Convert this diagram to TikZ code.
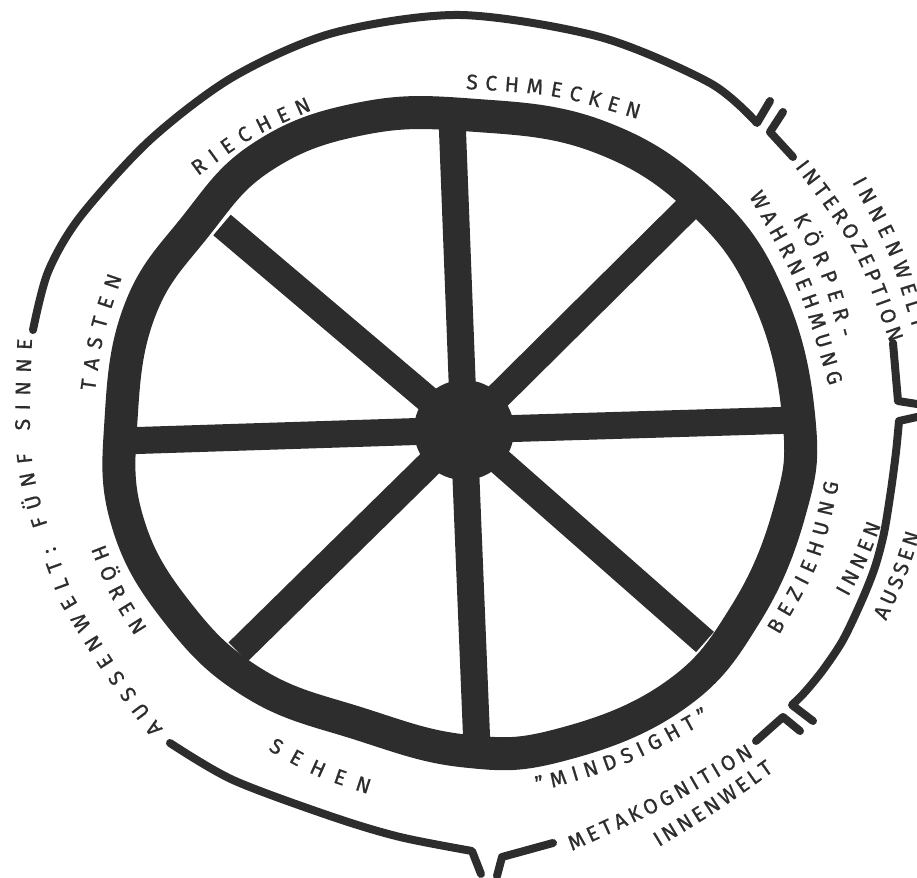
\documentclass[tikz,border=0pt]{standalone}
\usepackage{fontspec}
\setmainfont{Fira Sans}[FakeBold=0.8]
\usetikzlibrary{decorations.text}
\definecolor{ink}{HTML}{2D2D2D}
\newcommand\sensefont{\fontsize{12}{14}\selectfont}

\begin{document}
\begin{tikzpicture}[x=0.02cm, y=-0.02cm,
  wheelrim/.style={draw=ink, line width=0.66cm},
  spoke/.style={draw=ink, line width=0.54cm},
  bracket/.style={draw=ink, line width=0.16cm, line cap=round, line join=round},
  curvetext/.style={decorate, decoration={text along path, text={|\sensefont|#1}, text align={fit to path}, text color=ink}}]
\useasboundingbox (0,0) rectangle (917,878);
\coordinate (hub) at (464,430);
\foreach \e in {(452,118),(688,208),(797,420),(705,642),(477,748),(238,652),(122,441),(222,225)}
  \draw[spoke] (hub) -- \e;
\draw[wheelrim] plot[smooth cycle, tension=0.7] coordinates {(470,115) (600,137) (705,205) (770,300) (799,420) (790,510) (745,615) (674,696) (560,745) (465,751) (360,724) (255,684) (177,612) (127,520) (121,420) (140,310) (195,227) (262,157) (360,119)};
\fill[ink] (hub) circle[radius=50];

\draw[bracket] plot[smooth] coordinates {(33,330) (48,272) (80,217) (150,140) (233,77) (333,33) (460,15) (600,37) (710,83) (757,123)} -- (770,101);
\draw[bracket] plot[smooth] coordinates {(170,743) (233,780) (333,817) (400,837) (472,851)} -- (481,874);
\draw[bracket] (783,112) -- (770,132) -- (793,157);
\draw[bracket] (893,343) -- (898,401) -- (917,404);
\draw[bracket] (917,417) -- plot[smooth] coordinates {(899,421) (896,452) (891,490) (884,533) (875,567) (862,600) (843,640) (823,670) (805,692) (792,705)} -- (813,721);
\draw[bracket] (800,731) -- (783,717) -- (756,741);
\draw[bracket] (553,843) -- (502,857) -- (497,876);

\path[curvetext=SCHMECKEN] (466,89) .. controls (555,94) .. (638,119);
\path[curvetext=RIECHEN] (198,176) .. controls (251,137) .. (312,110);
\path[curvetext=TASTEN] (95,391) .. controls (103,332) .. (122,277);
\path[curvetext=HÖREN] (91,549) .. controls (109,595) .. (135,636);
\path[curvetext=SEHEN] (268,750) .. controls (316,777) .. (368,794);
\path[curvetext={"MINDSIGHT"}] (538,792) .. controls (627,766) .. (710,720);
\path[curvetext=KÖRPER-] (793,218) .. controls (823,276) .. (840,338);
\path[curvetext=WAHRNEHMUNG] (749,196) .. controls (800,286) .. (829,386);
\path[curvetext=INTEROZEPTION] (795,167) .. controls (857,249) .. (890,343);
\path[curvetext=INNENWELT] (852,182) .. controls (890,252) .. (913,329);
\path[curvetext=BEZIEHUNG] (779,635) .. controls (821,563) .. (839,483);
\path[curvetext=INNEN] (848,597) .. controls (867,562) .. (881,525);
\path[curvetext=AUSSEN] (886,621) .. controls (906,578) .. (920,534);
\path[curvetext=METAKOGNITION] (572,851) .. controls (666,808) .. (754,756);
\path[curvetext=INNENWELT] (659,847) .. controls (718,811) .. (774,771);
\path[curvetext={AUSSENWELT: FÜNF SINNE}] (163,729) .. controls (114,664) .. (73,596) .. controls (27,471) .. (32,339);
\end{tikzpicture}
\end{document}
